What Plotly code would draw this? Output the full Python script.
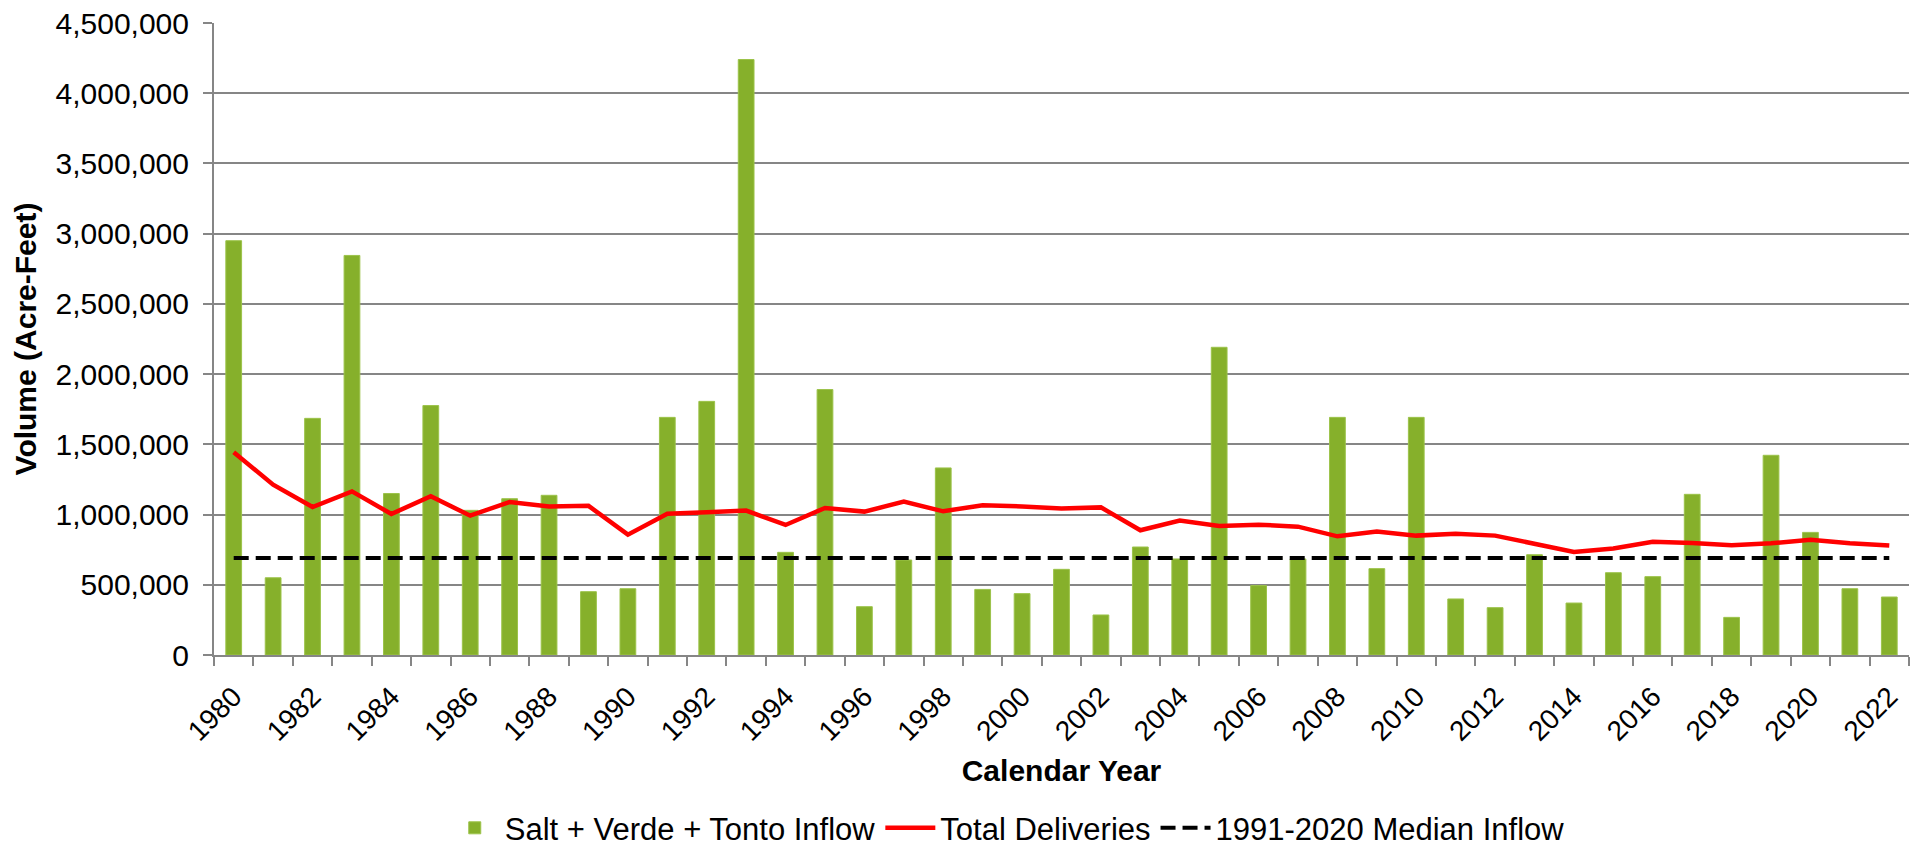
import plotly.graph_objects as go

years = list(range(1980, 2023))
inflow = [2950000, 550000, 1685000, 2845000, 1150000, 1776000, 1030000, 1113000, 1137000, 451000,
          472000, 1692000, 1806000, 4240000, 731000, 1890000, 344000, 676000, 1332000, 467000,
          437000, 610000, 285000, 769000, 684000, 2191000, 494000, 684000, 1692000, 615000,
          1692000, 399000, 337000, 714000, 370000, 586000, 558000, 1144000, 268000, 1422000,
          873000, 472000, 413000]
deliveries = [1443000, 1213000, 1054000, 1165000, 1004000, 1130000, 992000, 1090000, 1058000, 1062000,
              857000, 1006000, 1016000, 1028000, 926000, 1047000, 1021000, 1092000, 1023000, 1066000,
              1058000, 1044000, 1051000, 888000, 957000, 919000, 928000, 914000, 845000, 880000,
              850000, 864000, 850000, 793000, 733000, 759000, 807000, 798000, 781000, 795000,
              821000, 795000, 779000]
median_inflow = 690000
tick_labels = [str(y) for y in years[::2]]

FONT = "Liberation Sans, Arial, sans-serif"
GRID = "#868686"

fig = go.Figure()
fig.add_trace(go.Bar(x=years, y=inflow, name="Salt + Verde + Tonto Inflow",
                     marker=dict(color="#86B02B", line=dict(color="#9CC34A", width=1))))
fig.add_trace(go.Scatter(x=years, y=deliveries, name="Total Deliveries", mode="lines",
                         line=dict(color="#FF0000", width=4.5)))
fig.add_trace(go.Scatter(x=years, y=[median_inflow] * len(years), name="1991-2020 Median Inflow",
                         mode="lines", line=dict(color="#000000", width=4, dash="15px,7px")))

boundaries = [y - 0.5 for y in years] + [years[-1] + 0.5]

fig.update_layout(
    template="none",
    width=1923, height=846,
    margin=dict(l=214, r=14, t=23, b=191, pad=0, autoexpand=False),
    paper_bgcolor="white", plot_bgcolor="white",
    font=dict(family=FONT, size=30, color="#000000"),
    bargap=0.6,
    showlegend=True,
    legend=dict(orientation="h", x=0.468, xanchor="center", y=-0.274, yanchor="middle",
                font=dict(size=31), itemwidth=50, tracegroupgap=0, borderwidth=0),
    xaxis=dict(range=[years[0] - 0.5, years[-1] + 0.5], tickmode="array", automargin=False,
               tickvals=years[::2], ticktext=tick_labels, ticks="", tickangle=-45,
               showgrid=False, showline=True, linecolor=GRID, linewidth=2, zeroline=False,
               tickfont=dict(size=28), ticklabelstandoff=12,
               minor=dict(tickmode="array", tickvals=boundaries, ticks="outside", ticklen=9,
                          tickcolor=GRID, tickwidth=2, showgrid=False),
               title=dict(text="<b>Calendar Year</b>", font=dict(size=30), standoff=14)),
    yaxis=dict(range=[0, 4500000], tickmode="linear", tick0=0, dtick=500000, tickformat=",d",
               automargin=False,
               showgrid=True, gridcolor=GRID, gridwidth=2, showline=True, linecolor=GRID,
               linewidth=2, zeroline=False, ticks="outside", ticklen=9, tickcolor=GRID, tickwidth=2,
               ticklabelstandoff=8, tickfont=dict(size=30),
               title=dict(text="<b>Volume (Acre-Feet)</b>", font=dict(size=30), standoff=10)),
)

fig.write_html("out.html", config={"displayModeBar": False},
               post_script="document.body.style.margin='0';document.body.style.overflow='hidden';")
